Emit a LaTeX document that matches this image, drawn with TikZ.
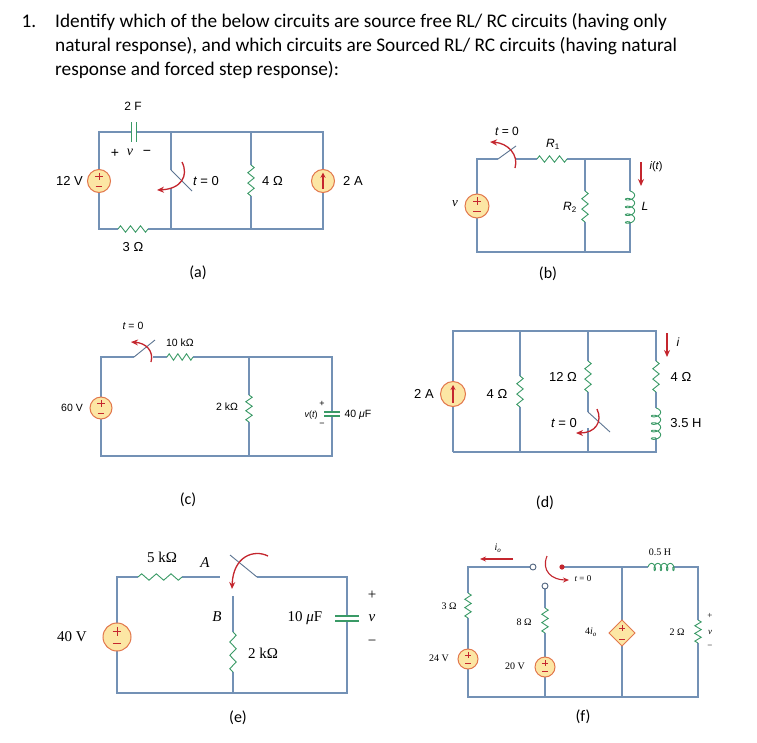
\documentclass[tikz,border=0pt]{standalone}
\usepackage{fontspec}
\setmainfont{Carlito}
\newfontfamily\hel{Liberation Sans}
\newfontfamily\tms{Liberation Serif}
\usetikzlibrary{arrows.meta}
\definecolor{wirec}{HTML}{7391B5}
\definecolor{resc}{HTML}{3A9A66}
\definecolor{redc}{HTML}{C4262E}
\definecolor{srcfill}{HTML}{FCE6A4}
\definecolor{srcedge}{HTML}{E2774C}
\newcommand\fs[1]{\fontsize{#1}{#1}\selectfont}
\tikzset{
 wire/.style={draw=wirec,line width=1.1pt},
 res/.style={draw=resc,line width=0.9pt},
 capl/.style={draw=resc,line width=1.1pt},
 sign/.style={draw=redc,line width=0.9pt},
 redarr/.style={draw=redc,line width=1.3pt,-{Stealth[length=7pt,width=6pt]}},
 blade/.style={draw=wirec!80!black,line width=0.9pt},
 lab/.style={inner sep=0pt,font=\hel\fs{#1}},
 lab/.default=12,
 tlab/.style={inner sep=0pt,font=\tms\fs{#1}},
 tlab/.default=15,
 hd/.style={inner sep=0pt,font=\fs{19.3}},
 sub/.style={inner sep=0pt,font=\fs{16}},
}
\newcommand\resV[3]{\pgfmathsetmacro\rl{(#3-#2)/12}\draw[res] (#1,#2) -- ++(3.2,\rl) -- ++(-6.4,2*\rl) -- ++(6.4,2*\rl) -- ++(-6.4,2*\rl) -- ++(6.4,2*\rl) -- ++(-6.4,2*\rl) -- ++(3.2,\rl);}
\newcommand\resH[3]{\pgfmathsetmacro\rl{(#3-#2)/12}\draw[res] (#2,#1) -- ++(\rl,-3.2) -- ++(2*\rl,6.4) -- ++(2*\rl,-6.4) -- ++(2*\rl,6.4) -- ++(2*\rl,-6.4) -- ++(2*\rl,6.4) -- ++(\rl,-3.2);}
% vertical inductor: x, y1, y2, turns
\newcommand\indV[4]{\pgfmathsetmacro\ip{(#3-#2)/#4}\draw[res,smooth] plot[domain={-pi/2}:{2*pi*#4-pi/2},samples=140,variable=\t] ({#1+4.6*cos(\t r)},{#2+\ip*(\t+pi/2)/(2*pi)+2.4*sin(\t r)+2.4});}
% horizontal inductor: y, x1, x2, turns (bumps upward)
\newcommand\indH[4]{\pgfmathsetmacro\ip{(#3-#2)/#4}\draw[res,smooth] plot[domain={-pi/2}:{2*pi*#4-pi/2},samples=140,variable=\t] ({#2+\ip*(\t+pi/2)/(2*pi)+2*sin(\t r)+2},{#1-3.6*cos(\t r)});}
\newcommand\srcbody[3]{\fill[srcfill] (#1,#2) circle (#3);\draw[srcedge,line width=1pt] (#1,#2) circle (#3);}
\newcommand\vsrc[3]{\srcbody{#1}{#2}{#3}%
 \draw[sign] ({#1-0.32*#3},{#2-0.4*#3}) -- ({#1+0.32*#3},{#2-0.4*#3}) (#1,{#2-0.72*#3}) -- (#1,{#2-0.08*#3});
 \draw[sign] ({#1-0.3*#3},{#2+0.45*#3}) -- ({#1+0.3*#3},{#2+0.45*#3});}
\newcommand\isrc[3]{\srcbody{#1}{#2}{#3}%
 \draw[sign,line width=1.3pt,-{Stealth[length=5pt,width=5pt]}] (#1,{#2+0.7*#3}) -- (#1,{#2-0.72*#3});}
\begin{document}
\begin{tikzpicture}[x=1pt,y=-1pt]
\useasboundingbox[fill=white] (0,0) rectangle (757,742);
% ---------- header
\node[hd,anchor=base west] (n1) at (21.5,27.3) {1.};
\node[hd,anchor=base west] (h1) at (55,27.3) {Identify which of the below circuits are source free RL/ RC circuits (having only};
\node[hd,anchor=base west] (h2) at (55,51.6) {natural response), and which circuits are Sourced RL/ RC circuits (having natural};
\node[hd,anchor=base west] (h3) at (55,75.9) {response and forced step response):};
% ---------- (a)
\draw[wire] (131.5,132) -- (99,132) -- (99,229) -- (118,229);
\draw[wire] (148,229) -- (323,229) -- (323,132) -- (136.5,132);
\draw[capl] (131.5,122) -- (131.5,142) (136.5,122) -- (136.5,142);
\draw[wire] (171,132) -- (171,170);
\draw[blade] (171,170) -- (192,191);
\draw[wire] (171,188) -- (171,229);
\draw[wire] (251,132) -- (251,165) (251,196) -- (251,229);
\resV{251}{165}{196}
\resH{229}{118}{148}
\vsrc{99}{181}{11.5}
\isrc{323}{181}{11.5}
\draw[redarr] (182,162) .. controls (189,176) and (181,189) .. (157,190);
\node[lab] (a2f) at (133,106) {2 F};
\node[lab=14] (aplus) at (115,153) {+};
\node[inner sep=0pt,font=\tms\itshape\fs{14}] (av) at (130,152) {v};
\node[lab=14] (amin) at (147,153) {−};
\node[lab=13,anchor=east] (a12) at (83,181) {12 V};
\node[lab=13,anchor=west] (at0) at (193,181) {\itshape t\upshape\ = 0};
\node[lab=13,anchor=west] (a4) at (262,181) {4 Ω};
\node[lab=13,anchor=west] (a2a) at (343,181) {2 A};
\node[lab=13] (a3) at (133,247) {3 Ω};
\node[sub] (la) at (198,273) {(a)};
% ---------- (b)
\draw[wire] (498,159) -- (477,159) -- (477,252) -- (630,252) -- (630,222);
\draw[wire] (630,191) -- (630,159) -- (567,159);
\draw[wire] (537,159) -- (515,159);
\draw[blade] (498,159) -- (516,146);
\draw[wire] (585,159) -- (585,191) (585,222) -- (585,252);
\resH{159}{537}{567}
\resV{585}{191}{222}
\indV{630}{191}{222}{4}
\vsrc{477}{206}{12}
\draw[redarr] (515,168) .. controls (519,155) and (508,143) .. (490,142);
\draw[redarr] (641,162) -- (641,186);
\node[lab=12] (bt0) at (507,131) {\itshape t\upshape\ = 0};
\node[lab=12] (br1) at (553,144) {\itshape R\upshape\textsubscript{1}};
\node[inner sep=0pt,font=\tms\itshape\fs{13}] (bv) at (455,204) {v};
\node[lab=12] (br2) at (570,207) {\itshape R\upshape\textsubscript{2}};
\node[lab=12] (bl) at (645,206) {\itshape L};
\node[lab=11] (bi) at (656,167) {\itshape i\upshape(\itshape t\upshape)};
\node[sub] (lb) at (548,274) {(b)};
% ---------- (c)
\draw[wire] (134,357) -- (101,357) -- (101,456) -- (332,456) -- (332,416);
\draw[wire] (332,412) -- (332,357) -- (193,357);
\draw[wire] (167,357) -- (153,357);
\draw[blade] (134,357) -- (155,340);
\draw[wire] (249,357) -- (249,395) (249,422) -- (249,456);
\resH{357}{167}{193}
\resV{249}{395}{422}
\draw[capl] (324,412) -- (340,412) (324,416) -- (340,416);
\vsrc{101}{408}{11}
\draw[redarr] (151,362) .. controls (154,351) and (146,343) .. (131,342);
\node[lab=10.5] (ct0) at (133,326) {\itshape t\upshape\ = 0};
\node[lab=10.5] (c10) at (180,343) {10 kΩ};
\node[lab=10.5] (c60) at (72,408) {60 V};
\node[lab=10.5] (c2k) at (227,407) {2 kΩ};
\node[lab=9] (cvt) at (311,415) {\itshape v\upshape(\itshape t\upshape)};
\node[lab=9] (cp) at (322,404) {+};
\node[lab=9] (cm) at (322,425) {−};
\node[lab=10.5] (c40) at (358,415) {40 \itshape μ\upshape F};
\node[sub] (lc) at (188,500) {(c)};
% ---------- (d)
\draw[wire] (453,452) -- (453,331) -- (656,331) -- (656,361);
\draw[wire] (656,392) -- (656,408) (656,438) -- (656,452) -- (453,452);
\draw[wire] (520,331) -- (520,376) (520,407) -- (520,452);
\draw[wire] (588,331) -- (588,361) (588,392) -- (588,412);
\draw[blade] (588,412) -- (610,432);
\draw[wire] (588,428) -- (588,452);
\resV{520}{376}{407}
\resV{588}{361}{392}
\resV{656}{361}{392}
\indV{656}{408}{438}{4}
\isrc{453}{394}{12.5}
\draw[redarr] (597,409) .. controls (603,422) and (595,433) .. (576,433);
\draw[redarr] (667,333) -- (667,357);
\node[lab=13] (d2a) at (424,394) {2 A};
\node[lab=13] (d4a) at (497,394) {4 Ω};
\node[lab=13] (d12) at (563,377) {12 Ω};
\node[lab=13] (dt0) at (564,423) {\itshape t\upshape\ = 0};
\node[lab=13] (d4b) at (681,377) {4 Ω};
\node[lab=13] (d35) at (686,423) {3.5 H};
\node[lab=12] (di) at (678,342) {\itshape i};
\node[sub] (ld) at (545,503) {(d)};
% ---------- (e)
\draw[wire] (138,577) -- (117,577) -- (117,693) -- (347,693) -- (347,621);
\draw[wire] (347,616) -- (347,577) -- (257,577);
\draw[wire] (182,577) -- (220,577);
\draw[blade] (257,577) -- (230,555);
\draw[wire] (233,596) -- (233,632) (233,672) -- (233,693);
\resH{577}{138}{182}
\resV{233}{632}{672}
\draw[capl] (335,616) -- (359,616) (335,621) -- (359,621);
\vsrc{117}{637}{14}
\draw[redarr] (268,556) .. controls (254,549) and (233,556) .. (232,589);
\node[tlab] (e5k) at (162,557) {5 kΩ};
\node[tlab,font=\tms\itshape\fs{15}] (eA) at (205,563) {A};
\node[tlab,font=\tms\itshape\fs{15}] (eB) at (217,617) {B};
\node[tlab] (e2k) at (263,653) {2 kΩ};
\node[tlab] (e10) at (305,618) {10 \itshape μ\upshape F};
\node[tlab] (e40) at (72,637) {40 V};
\node[tlab] (ep) at (372,595) {+};
\node[tlab,font=\tms\itshape\fs{15}] (ev) at (372,618) {v};
\node[tlab] (em) at (372,643) {−};
\node[sub] (le) at (238,718) {(e)};
% ---------- (f)
\draw[wire] (530,567) -- (468,567) -- (468,593) (468,618) -- (468,697) -- (698,697) -- (698,643);
\draw[wire] (698,620) -- (698,567) -- (673,567) (648,567) -- (562,567);
\draw[wire] (545,589) -- (545,608) (545,633) -- (545,697);
\draw[wire] (622,567) -- (622,697);
\resV{468}{593}{618}
\resV{545}{608}{633}
\resV{698}{620}{643}
\indH{567}{648}{673}{4}
\vsrc{468}{659}{10}
\vsrc{545}{667}{10}
\fill[srcfill] (622,620) -- (635,633) -- (622,646) -- (609,633) -- cycle;
\draw[srcedge,line width=1pt] (622,620) -- (635,633) -- (622,646) -- (609,633) -- cycle;
\draw[sign] (619,628) -- (625,628) (622,625) -- (622,631) (619,639) -- (625,639);
\draw[wirec!70!black,line width=0.9pt,fill=white] (533,567) circle (3);
\draw[wirec!70!black,line width=0.9pt,fill=white] (545,586) circle (3);
\fill[redc] (562,567) circle (2.6);
\draw[redarr,line width=1.1pt,-{Stealth[length=6pt,width=5pt]}] (547,556) .. controls (541,571) and (552,580) .. (569,580);
\draw[redarr,line width=1.1pt,-{Stealth[length=6pt,width=5pt]}] (513,559) -- (480,559);
\node[tlab=10,font=\tms\itshape\fs{10}] (fio) at (498,548) {i\textsubscript{o}};
\node[tlab=10] (f05) at (660,552) {0.5 H};
\node[tlab=9] (ft0) at (583,579) {\itshape t\upshape\ = 0};
\node[tlab=10] (f3) at (449,606) {3 Ω};
\node[tlab=10] (f24) at (439,658) {24 V};
\node[tlab=10] (f8) at (524,622) {8 Ω};
\node[tlab=10] (f20) at (515,666) {20 V};
\node[tlab=10] (f4i) at (591,632) {4\itshape i\textsubscript{o}};
\node[tlab=10] (f2) at (677,632) {2 Ω};
\node[tlab=9] (fp) at (710,616) {+};
\node[tlab=9,font=\tms\itshape\fs{9}] (fv) at (710,632) {v};
\node[tlab=9] (fm) at (710,647) {−};
\node[sub] (lf) at (583,717) {(f)};
\end{tikzpicture}
\end{document}
